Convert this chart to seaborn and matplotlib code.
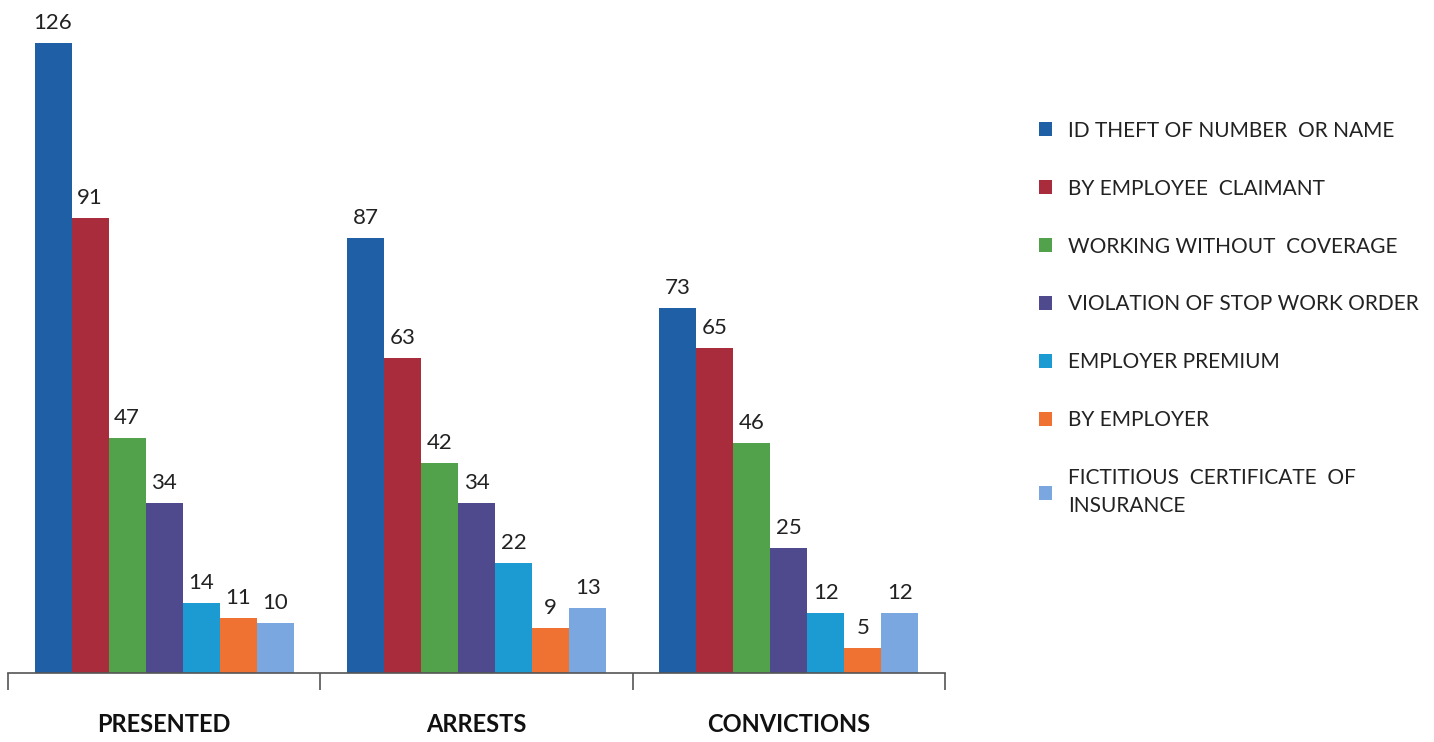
import matplotlib
matplotlib.use("Agg")
import matplotlib.pyplot as plt
from matplotlib.ticker import FixedLocator
import pandas as pd
import seaborn as sns

stages = ["PRESENTED", "ARRESTS", "CONVICTIONS"]
fraud_types = [
    "ID THEFT OF NUMBER  OR NAME",
    "BY EMPLOYEE  CLAIMANT",
    "WORKING WITHOUT  COVERAGE",
    "VIOLATION OF STOP WORK ORDER",
    "EMPLOYER PREMIUM",
    "BY EMPLOYER",
    "FICTITIOUS  CERTIFICATE  OF\nINSURANCE",
]
id_theft = [126, 87, 73]
employee_claimant = [91, 63, 65]
without_coverage = [47, 42, 46]
stop_work_order = [34, 34, 25]
employer_premium = [14, 22, 12]
by_employer = [11, 9, 5]
fictitious_cert = [10, 13, 12]

colors = ["#1F5FA6", "#A82C3C", "#52A24C", "#4F4A8E", "#1B9BD2", "#F07232", "#7BA7E1"]

series = [id_theft, employee_claimant, without_coverage, stop_work_order,
          employer_premium, by_employer, fictitious_cert]
rows = []
for name, vals in zip(fraud_types, series):
    for stage, v in zip(stages, vals):
        rows.append({"stage": stage, "type": name, "count": v})
df = pd.DataFrame(rows)

sns.set_theme(style="white")
plt.rcParams["font.family"] = ["Lato", "DejaVu Sans"]

fig = plt.figure(figsize=(14.34, 7.42), dpi=100)
ax = fig.add_axes([8 / 1434, 69 / 742, 937 / 1434, 673 / 742])

sns.barplot(data=df, x="stage", y="count", hue="type", order=stages,
            hue_order=fraud_types, palette=colors, width=0.83,
            edgecolor="none", saturation=1, legend=False, ax=ax)

for cont in ax.containers:
    ax.bar_label(cont, padding=7, fontsize=16, color="#222222")

ax.set_xlim(-0.5, 2.5)
ax.set_ylim(0, 134.5)
ax.set_xlabel("")
ax.set_ylabel("")
ax.set_yticks([])
for s in ["top", "right", "left"]:
    ax.spines[s].set_visible(False)
ax.spines["bottom"].set_color("#555555")
ax.spines["bottom"].set_linewidth(1.2)

ax.xaxis.set_major_locator(FixedLocator([-0.5, 0.5, 1.5, 2.5]))
ax.xaxis.set_minor_locator(FixedLocator([0, 1, 2]))
ax.set_xticklabels(["", "", "", ""])
ax.set_xticklabels(stages, minor=True, fontsize=17, fontweight="bold", color="#111111")
ax.tick_params(axis="x", which="major", bottom=True, direction="out", length=12,
               width=1.2, color="#555555")
ax.tick_params(axis="x", which="minor", bottom=False, length=0, pad=29)

handles = [plt.Rectangle((0, 0), 1, 1, facecolor=c, edgecolor="none") for c in colors]
leg = fig.legend(handles, fraud_types, loc="upper left",
                 bbox_to_anchor=(1020 / 1434, 1 - 102 / 742),
                 frameon=False, fontsize=15, handlelength=0.65, handleheight=0.65,
                 handletextpad=0.75, labelspacing=1.82, labelcolor="#222222")
for t in leg.get_texts():
    t.set_linespacing(1.5)

fig.savefig("out.png", dpi=100)
